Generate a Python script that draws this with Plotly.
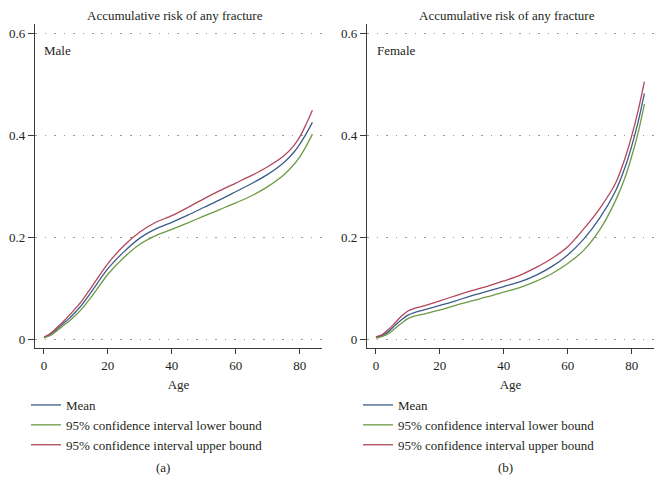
import plotly.graph_objects as go

# ---- data ----
ages_m = [0, 2, 4, 6, 8, 10, 12, 15, 20, 25, 30, 35, 40, 45, 50, 55, 60, 65, 70, 75, 78, 80, 82, 84]
mean_m = [0.003, 0.009, 0.019, 0.030, 0.041, 0.054, 0.068, 0.094, 0.138, 0.171, 0.198, 0.216, 0.229, 0.243,
          0.258, 0.273, 0.289, 0.305, 0.323, 0.346, 0.365, 0.382, 0.402, 0.425]
upper_m = [0.004, 0.011, 0.022, 0.034, 0.047, 0.061, 0.076, 0.103, 0.148, 0.183, 0.210, 0.229, 0.242, 0.258,
           0.275, 0.291, 0.306, 0.321, 0.338, 0.359, 0.378, 0.396, 0.421, 0.449]
lower_m = [0.002, 0.007, 0.016, 0.026, 0.036, 0.047, 0.060, 0.084, 0.127, 0.160, 0.186, 0.203, 0.215, 0.228,
           0.241, 0.254, 0.267, 0.281, 0.299, 0.322, 0.341, 0.357, 0.378, 0.402]

ages_f = [0, 2, 4, 6, 8, 10, 12, 15, 20, 25, 30, 35, 40, 45, 50, 55, 60, 65, 70, 75, 78, 80, 82, 84]
mean_f = [0.003, 0.007, 0.015, 0.027, 0.038, 0.047, 0.052, 0.057, 0.066, 0.075, 0.085, 0.094, 0.103, 0.112,
          0.125, 0.142, 0.165, 0.196, 0.237, 0.291, 0.338, 0.378, 0.425, 0.482]
upper_f = [0.004, 0.009, 0.019, 0.032, 0.045, 0.055, 0.060, 0.065, 0.075, 0.085, 0.095, 0.104, 0.114, 0.125,
           0.140, 0.158, 0.181, 0.216, 0.256, 0.306, 0.356, 0.398, 0.447, 0.505]
lower_f = [0.002, 0.005, 0.011, 0.021, 0.031, 0.040, 0.045, 0.049, 0.057, 0.066, 0.075, 0.083, 0.092, 0.101,
           0.113, 0.128, 0.148, 0.174, 0.214, 0.272, 0.318, 0.358, 0.404, 0.461]

series_names = ["Mean", "95% confidence interval lower bound", "95% confidence interval upper bound"]
x_ticks = [0, 20, 40, 60, 80]
y_ticks = [0, 0.2, 0.4, 0.6]
y_tick_labels = ["0", "0.2", "0.4", "0.6"]
title_text = "Accumulative risk of any fracture"
panel_labels = ["Male", "Female"]
sub_labels = ["(a)", "(b)"]

# ---- styling ----
W, H = 663, 493
OFF = 8  # page body margin
FONT = "Liberation Serif"
FS = 13
TXT = "#231f20"
AX = "#3a3a3a"
colors = ["#3b5c8c", "#6c9a45", "#b3475a"]

def px(x):
    return (x - OFF) / W

def py(y):
    return (H - (y - OFF)) / H

fig = go.Figure()

panels = [
    (ages_m, [mean_m, lower_m, upper_m], "x", "y", "legend"),
    (ages_f, [mean_f, lower_f, upper_f], "x2", "y2", "legend2"),
]
for ages, ser, xa, ya, lg in panels:
    for name, vals, c in zip(series_names, ser, colors):
        fig.add_trace(go.Scatter(
            x=ages, y=vals, mode="lines", name=name,
            line=dict(color=c, width=1.3, shape="spline", smoothing=0.8),
            xaxis=xa, yaxis=ya, legend=lg, hoverinfo="skip",
        ))

xdoms = [[px(35), px(322)], [px(367), px(654)]]
ydom = [py(348), py(24)]

def xaxis_cfg(dom, anchor):
    return dict(
        domain=dom, anchor=anchor,
        range=[-2.8, 87], tickmode="array", tickvals=x_ticks, showgrid=False, zeroline=False,
        showline=True, linecolor=AX, linewidth=1.3, ticks="outside", ticklen=5, tickwidth=1.2,
        tickcolor=AX, tickfont=dict(family=FONT, size=FS, color=TXT),
        title=dict(text="Age", font=dict(family=FONT, size=FS, color=TXT), standoff=8),
    )

def yaxis_cfg(anchor):
    return dict(
        domain=ydom, anchor=anchor,
        range=[-0.0176, 0.618], tickmode="array", tickvals=y_ticks, ticktext=y_tick_labels,
        showgrid=True, gridcolor="#9a9a9a", gridwidth=1, griddash="1.5px,8px", zeroline=False,
        showline=True, linecolor=AX, linewidth=1.3, ticks="outside", ticklen=6, tickwidth=1.2,
        tickcolor=AX, tickfont=dict(family=FONT, size=FS, color=TXT),
    )

def legend_cfg(x):
    return dict(
        x=x, y=py(425),
        font=dict(family=FONT, size=FS, color=TXT), bgcolor="rgba(0,0,0,0)", borderwidth=0,
        xanchor="left", yanchor="middle", tracegroupgap=0, itemclick=False,
    )

fig.update_layout(
    width=W, height=H,
    margin=dict(l=0, r=0, t=0, b=0),
    paper_bgcolor="white", plot_bgcolor="white",
    font=dict(family=FONT, size=FS, color=TXT),
    xaxis=xaxis_cfg(xdoms[0], "y"),
    yaxis=yaxis_cfg("x"),
    xaxis2=xaxis_cfg(xdoms[1], "y2"),
    yaxis2=yaxis_cfg("x2"),
    legend=legend_cfg(px(26)),
    legend2=legend_cfg(px(358)),
    showlegend=True,
)

annotations = []
for cx in [175, 507]:
    annotations.append(dict(text=title_text, x=px(cx), y=py(15), xref="paper", yref="paper",
                            showarrow=False, xanchor="center", yanchor="middle",
                            font=dict(family=FONT, size=FS, color=TXT)))
for lab, lx in zip(panel_labels, [42, 375]):
    annotations.append(dict(text=lab, x=px(lx), y=py(50), xref="paper", yref="paper",
                            showarrow=False, xanchor="left", yanchor="middle",
                            font=dict(family=FONT, size=FS, color=TXT)))
for lab, lx in zip(sub_labels, [163, 505]):
    annotations.append(dict(text=lab, x=px(lx), y=py(467), xref="paper", yref="paper",
                            showarrow=False, xanchor="center", yanchor="middle",
                            font=dict(family=FONT, size=FS, color=TXT)))
fig.update_layout(annotations=annotations)

fig.write_html("out.html")
